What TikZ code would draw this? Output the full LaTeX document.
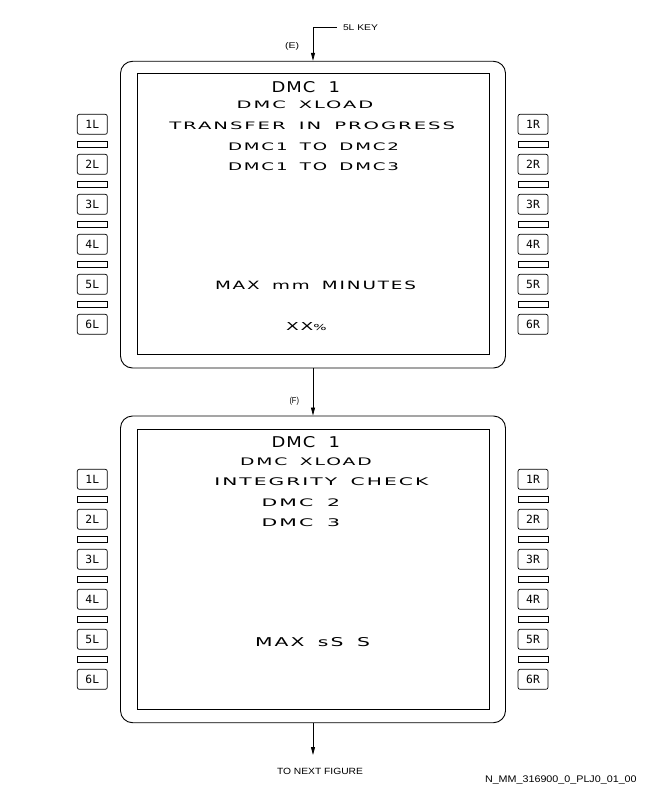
\documentclass[tikz,border=0pt]{standalone}
\usepackage{fontspec}
\usepackage{graphicx}
\setmainfont{Liberation Sans}
\newfontfamily\dispfont[LetterSpace=10,WordSpace=1.6]{DejaVu Sans}
\newfontfamily\bigdisp[LetterSpace=5,WordSpace=2.0]{DejaVu Sans}
\newfontfamily\keyfont{DejaVu Sans Mono}
\usetikzlibrary{arrows.meta}
\newcommand\fitbox[3]{\resizebox{#1pt}{#2pt}{#3}}
\begin{document}
\begin{tikzpicture}[x=1pt,y=-1pt,
  frame/.style={draw, line width=0.9pt, rounded corners=12pt, minimum width=385pt, minimum height=306.7pt, inner sep=0},
  screen/.style={draw, line width=0.9pt, minimum width=352pt, minimum height=280.6pt, inner sep=0},
  keybox/.style={draw, line width=0.7pt, rounded corners=2pt, minimum width=30pt, minimum height=20pt, inner sep=0, font=\keyfont\fontsize{11.3}{12}\selectfont},
  sepbar/.style={draw, line width=0.7pt, minimum width=30pt, minimum height=6pt, inner sep=0},
  txt/.style={anchor=base west, inner sep=0, outer sep=0},
  flow/.style={draw, line width=0.8pt, -{Triangle[length=8pt,width=4pt]}},
]
\useasboundingbox (0,0) rectangle (648,792);
% frames and screens
\node[frame] (f1) at (313,214.65) {};
\node[screen] (s1) at (313,214) {};
\node[frame] (f2) at (313,569.35) {};
\node[screen] (s2) at (313,569.5) {};
% line select keys
\foreach \o/\s in {0/a,355/b} {
  \foreach \i in {1,...,6} {
    \node[keybox] (L\i\s) at (92.3,{124.3+40*(\i-1)+\o}) {\i L};
    \node[keybox] (R\i\s) at (533,{124.3+40*(\i-1)+\o}) {\i R};
  }
  \foreach \i in {1,...,5} {
    \node[sepbar] (LB\i\s) at (92.3,{144.6+40*(\i-1)+\o}) {};
    \node[sepbar] (RB\i\s) at (533,{144.6+40*(\i-1)+\o}) {};
  }
}
% connectors and labels
\coordinate (k5) at (336.7,27.7);
\node[txt] (k5t) at (343,30.7) {\fitbox{35}{5.7}{5L KEY}};
\draw[flow] (k5) -| (f1.north);
\node[txt] (E) at (285,48.5) {\fitbox{14}{6}{(E)}};
\draw[flow] (f1.south) -- (f2.north);
\node[txt] (F) at (289.5,403) {\fitbox{9.5}{6.3}{(F)}};
\coordinate (nx) at (313,755);
\draw[flow] (f2.south) -- (nx);
\node[txt] (next) at (277,774) {\fitbox{86}{6.3}{TO NEXT FIGURE}};
\node[txt] (ref) at (485,782.7) {\fitbox{151.7}{6.7}{N\_MM\_316900\_0\_PLJ0\_01\_00}};
% upper screen text
\node[txt] (u1) at (271.7,92.5) {\fitbox{68.3}{11}{\bigdisp DMC 1}};
\node[txt] (u2) at (236.7,108.3) {\fitbox{136.6}{7.6}{\dispfont DMC XLOAD}};
\node[txt] (u3) at (169.3,129.3) {\fitbox{285.7}{7.6}{\dispfont TRANSFER IN PROGRESS}};
\node[txt] (u4) at (228,150) {\fitbox{171}{7.7}{\dispfont DMC1 TO DMC2}};
\node[txt] (u5) at (228,170.7) {\fitbox{171}{7.8}{\dispfont DMC1 TO DMC3}};
\node[txt] (u6) at (215,289.3) {\fitbox{201}{8.5}{\dispfont MAX mm MINUTES}};
\node[txt] (u7) at (286,330.7) {\fitbox{40.7}{8}{\dispfont XX\raisebox{0.6pt}{\scalebox{0.75}{\%}}}};
% lower screen text
\node[txt] (l1) at (271.7,447.5) {\fitbox{68.3}{11}{\bigdisp DMC 1}};
\node[txt] (l2) at (240,465) {\fitbox{131.7}{7.7}{\dispfont DMC XLOAD}};
\node[txt] (l3) at (214.3,485.7) {\fitbox{214}{7.8}{\dispfont INTEGRITY CHECK}};
\node[txt] (l4) at (261.7,506) {\fitbox{78.3}{7.7}{\dispfont DMC 2}};
\node[txt] (l5) at (261.7,526.7) {\fitbox{78.3}{7.8}{\dispfont DMC 3}};
\node[txt] (l6) at (255,646) {\fitbox{115}{9}{\dispfont MAX sS S}};
\end{tikzpicture}
\end{document}
